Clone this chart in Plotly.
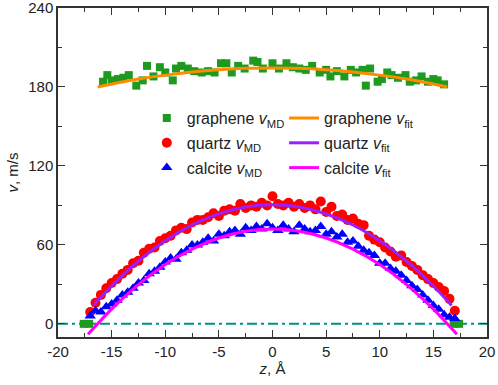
import plotly.graph_objects as go

# ---------------- data ----------------
graphene_z = [-17.6, -17.1, -15.8, -15.4, -15.0, -14.4, -13.9, -13.4, -12.7, -12.1, -11.7, -11.1,
              -10.5, -10.0, -9.3, -9.0, -8.5, -7.9, -7.3, -6.6, -6.0, -5.4, -4.8, -4.3,
              -3.8, -3.2, -2.6, -1.8, -1.4, -0.9, 0.0, 0.6, 1.3, 1.9, 2.5, 3.1, 3.7, 4.4,
              5.0, 5.4, 6.0, 6.7, 7.3, 7.8, 8.4, 8.7, 9.1, 9.8, 10.2, 10.7, 11.1, 11.7,
              12.4, 12.8, 13.4, 13.9, 14.5, 15.0, 15.4, 16.0, 16.9, 17.4]
graphene_v = [0, 0, 184, 189, 185, 186, 187, 189, 181, 185, 196, 188,
              195, 191, 185, 194, 196, 194, 192, 191, 192, 191, 198, 198,
              191, 196, 194, 200, 199, 194, 198, 194, 198, 195, 194, 193, 196, 191,
              193, 188, 192, 188, 193, 191, 193, 181, 194, 184, 186, 191, 189, 187,
              189, 184, 185, 188, 184, 186, 185, 182, 0, 0]

md_z = [-17.0, -16.5, -16.0, -15.5, -15.0, -14.5, -14.0, -13.5, -13.0, -12.5, -12.0, -11.5,
        -11.0, -10.5, -10.0, -9.5, -9.0, -8.5, -8.0, -7.5, -7.0, -6.5, -6.0, -5.5,
        -5.0, -4.5, -4.0, -3.5, -3.0, -2.5, -2.0, -1.5, -1.0, -0.5, 0.0, 0.5,
        1.0, 1.5, 2.0, 2.5, 3.0, 3.5, 4.0, 4.5, 5.0, 5.5, 6.0, 6.5,
        7.0, 7.5, 8.0, 8.5, 9.0, 9.5, 10.0, 10.5, 11.0, 11.5, 12.0, 12.5,
        13.0, 13.5, 14.0, 14.5, 15.0, 15.5, 16.0, 16.5, 17.0]
quartz_v = [9, 16, 22, 27, 31, 34, 38, 41, 46, 48, 54, 57,
            58, 63, 65, 67, 71, 73, 72, 77, 79, 79, 81, 84,
            82, 86, 87, 86, 91, 88, 90, 89, 92, 90, 97, 91,
            90, 92, 89, 91, 88, 90, 87, 93, 85, 89, 82, 83,
            79, 80, 76, 75, 67, 64, 62, 58, 55, 51, 52, 47,
            44, 41, 37, 34, 31, 28, 25, 19, 10]
calcite_v = [6, 10, 9, 13, 15, 18, 22, 24, 27, 31, 33, 38,
             40, 43, 47, 50, 49, 54, 56, 60, 60, 62, 65, 63,
             68, 67, 70, 71, 68, 73, 71, 74, 72, 76, 73, 71,
             75, 72, 70, 75, 72, 70, 71, 74, 68, 70, 66, 68,
             62, 63, 59, 56, 54, 52, 46, 46, 42, 40, 37, 33,
             29, 26, 22, 18, 14, 11, 7, 5, 4]

graphene_fit_z = [-16.3, -12.5, -10.0, -7.5, -5.0, -2.5, 0.0, 2.5, 5.0, 7.5, 10.0, 12.5, 16.3]
graphene_fit_v = [180, 186, 189, 191.4, 193.1, 194.2, 194.5, 194.2, 193.1, 191.4, 189, 186, 180]

quartz_fit_z = [-16.7, -15.0, -12.5, -10.0, -7.5, -5.0, -2.5, 0.0, 2.5, 5.0, 7.5, 10.0, 12.5, 15.0, 16.7]
quartz_fit_v = [14.0, 28.8, 47.7, 63.1, 75.1, 83.6, 88.8, 90.5, 88.8, 83.6, 75.1, 63.1, 47.7, 28.8, 14.0]

calcite_fit_z = [-17.2, -15.0, -12.5, -10.0, -7.5, -5.0, -2.5, 0.0, 2.5, 5.0, 7.5, 10.0, 12.5, 15.0, 17.2]
calcite_fit_v = [-8.0, 11.2, 29.8, 45.0, 56.8, 65.2, 70.3, 72.0, 70.3, 65.2, 56.8, 45.0, 29.8, 11.2, -8.0]

zero_z = [-20, 20]
zero_v = [0, 0]

x_ticks = [-20, -15, -10, -5, 0, 5, 10, 15, 20]
x_ticktext = ["-20", "-15", "-10", "-5", "0", "5", "10", "15", "20"]
y_ticks = [0, 60, 120, 180, 240]

# ---------------- figure ----------------
fig = go.Figure()

fig.add_trace(go.Scatter(x=zero_z, y=zero_v, mode="lines", showlegend=False,
                         line=dict(color="#00908c", width=2, dash="10px,4px,3px,4px")))

fig.add_trace(go.Scatter(x=graphene_z, y=graphene_v, mode="markers", name="graphene <i>v</i><sub>MD</sub>",
                         marker=dict(symbol="square", size=8, color="#1e9a1e"), legend="legend", legendgroup="g1"))
fig.add_trace(go.Scatter(x=md_z, y=quartz_v, mode="markers", name="quartz <i>v</i><sub>MD</sub>",
                         marker=dict(symbol="circle", size=10, color="#ff0000"), legend="legend", legendgroup="q1"))
fig.add_trace(go.Scatter(x=md_z, y=calcite_v, mode="markers", name="calcite <i>v</i><sub>MD</sub>",
                         marker=dict(symbol="triangle-up", size=10, color="#0000ff"), legend="legend", legendgroup="c1"))

fig.add_trace(go.Scatter(x=graphene_fit_z, y=graphene_fit_v, mode="lines", name="graphene <i>v</i><sub>fit</sub>",
                         line=dict(color="#ff8c00", width=3, shape="spline"), legend="legend2", legendgroup="g2"))
fig.add_trace(go.Scatter(x=quartz_fit_z, y=quartz_fit_v, mode="lines", name="quartz <i>v</i><sub>fit</sub>",
                         line=dict(color="#9b1eff", width=3, shape="spline"), legend="legend2", legendgroup="q2"))
fig.add_trace(go.Scatter(x=calcite_fit_z, y=calcite_fit_v, mode="lines", name="calcite <i>v</i><sub>fit</sub>",
                         line=dict(color="#ff00ff", width=3, shape="spline"), legend="legend2", legendgroup="c2"))

axis_common = dict(showgrid=False, zeroline=False, showline=True, linecolor="#333333", linewidth=1.5,
                   mirror="allticks", ticks="inside", ticklen=7, tickwidth=1.3, tickcolor="#333333",
                   automargin=False, ticklabeloverflow="allow",
                   tickfont=dict(family="Liberation Sans, Arial", size=15, color="#222222"))

fig.update_layout(
    width=498, height=385,
    margin=dict(l=58, r=11, t=8, b=48),
    paper_bgcolor="white", plot_bgcolor="white",
    font=dict(family="Liberation Sans, Arial", color="#222222"),
    xaxis=dict(range=[-20, 20], tickmode="array", tickvals=x_ticks, ticktext=x_ticktext,
               minor=dict(tickmode="linear", tick0=0, dtick=2.5, ticks="inside",
                          ticklen=4, tickwidth=1.2, tickcolor="#333333"),
               title=dict(text="<i>z</i>, Å", font=dict(size=15), standoff=3), **axis_common),
    yaxis=dict(range=[-10, 240], tickmode="array", tickvals=y_ticks,
               minor=dict(tickmode="linear", tick0=0, dtick=30, ticks="inside",
                          ticklen=4, tickwidth=1.2, tickcolor="#333333"),
               title=dict(text="<i>v</i>, m/s", font=dict(size=15), standoff=6), **axis_common),
    legend=dict(x=0.207, y=0.717, xanchor="left", yanchor="top", bgcolor="rgba(0,0,0,0)",
                font=dict(size=16), itemwidth=30, tracegroupgap=1),
    legend2=dict(x=0.527, y=0.717, xanchor="left", yanchor="top", bgcolor="rgba(0,0,0,0)",
                 font=dict(size=16), itemwidth=30, tracegroupgap=1),
)

fig.write_html("out.html", config={"displayModeBar": False},
               post_script="document.body.style.margin='0';")
